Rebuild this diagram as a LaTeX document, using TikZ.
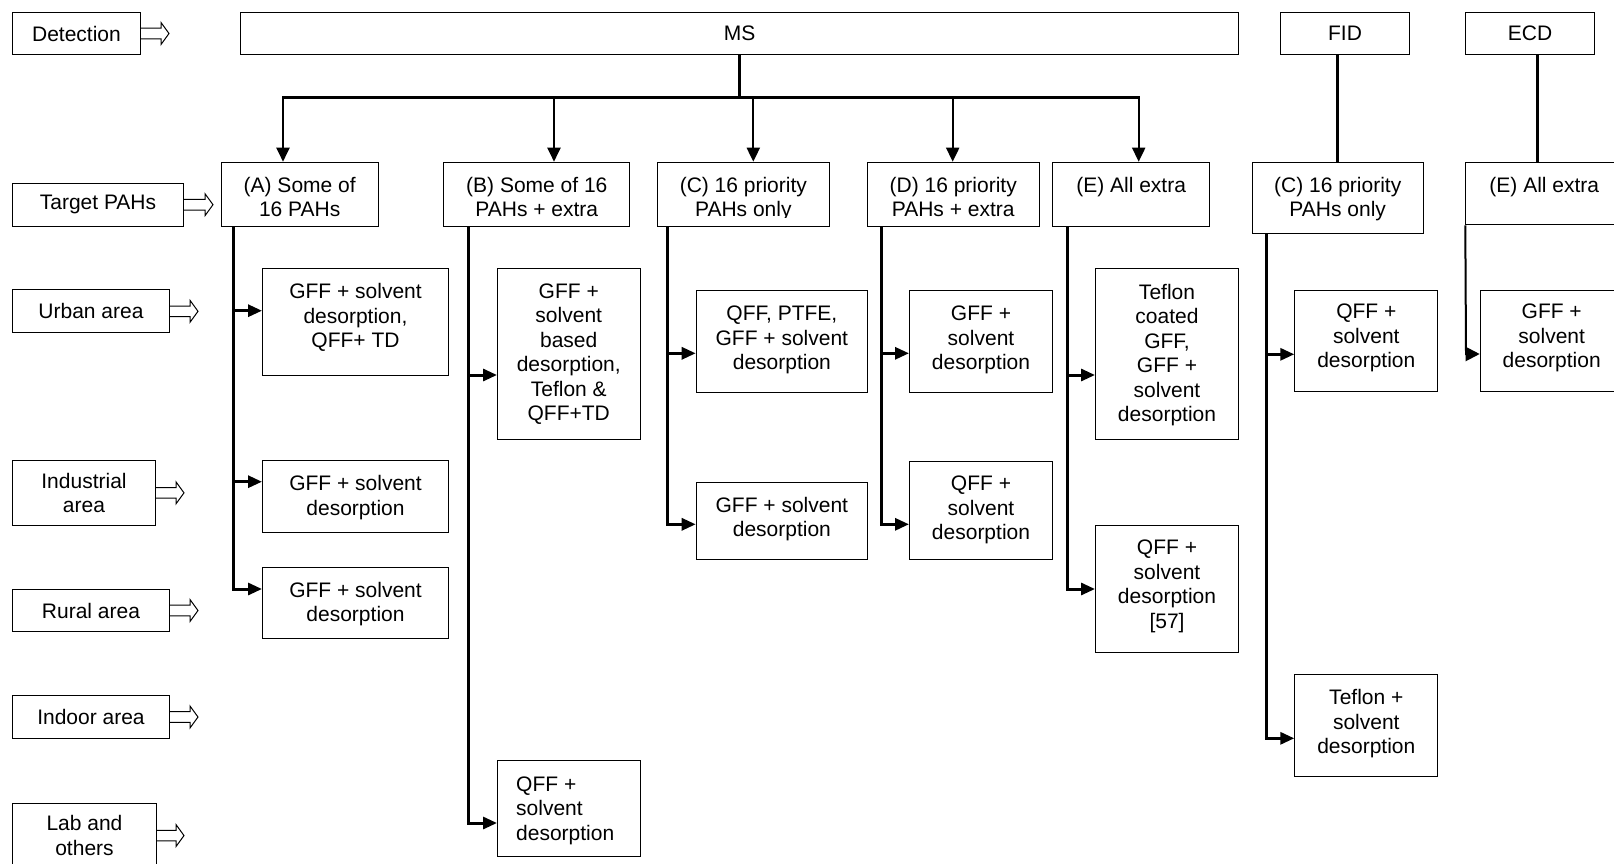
\documentclass[tikz,border=0pt]{standalone}
\usepackage{fontspec}
\setmainfont{Liberation Sans}
\usetikzlibrary{arrows.meta}

\begin{document}
\begin{tikzpicture}[x=1pt, y=-1pt,
                    nodes={font=\fontsize{21}{24.5}\selectfont, inner sep=0pt},
                    box/.style={draw, line width=1pt, anchor=north west},
                    txt/.style={align=center, anchor=north},
                    trunk/.style={line width=3pt},
                    drop/.style={line width=2pt, -{Triangle[length=14pt,width=13pt]}},
                    br/.style={line width=3pt, -{Triangle[length=14pt,width=12pt]}},
                    hol/.style={line width=1pt, line join=miter}]
 \useasboundingbox (0,0) rectangle (1614,863);
 % left column
 \node[box, minimum width=128pt, minimum height=42.6pt] (det) at (12,11.7) {Detection};
 \node[box, minimum width=171pt, minimum height=43pt] (tgt) at (12,182.7) {Target PAHs};
 \node[box, minimum width=157pt, minimum height=43pt] (urb) at (12,289.3) {Urban area};
 \node[box, minimum width=143pt, minimum height=64.7pt, align=center] (ind) at (12,460) {Industrial\\area};
 \node[box, minimum width=157pt, minimum height=42.6pt] (rur) at (12,588.7) {Rural area};
 \node[box, minimum width=157pt, minimum height=43pt] (indr) at (12,695) {Indoor area};
 \node[box, minimum width=144pt, minimum height=64.7pt, align=center] (lab) at (12,802.7) {Lab and\\others};
 \draw[hol] (det.east) ++(0,-5.3) -- ++(20,0) -- ++(0,-5.7) -- ++(8,11) -- ++(-8,11) -- ++(0,-5.7) -- ++(-20,0);
 \draw[hol] (tgt.east) ++(0,-5.3) -- ++(21,0) -- ++(0,-5.7) -- ++(8,11) -- ++(-8,11) -- ++(0,-5.7) -- ++(-21,0);
 \draw[hol] (urb.east) ++(0,-5.3) -- ++(20,0) -- ++(0,-5.7) -- ++(8,11) -- ++(-8,11) -- ++(0,-5.7) -- ++(-20,0);
 \draw[hol] (ind.east) ++(0,-5.3) -- ++(20,0) -- ++(0,-5.7) -- ++(8,11) -- ++(-8,11) -- ++(0,-5.7) -- ++(-20,0);
 \draw[hol] (rur.east) ++(0,-5.3) -- ++(20,0) -- ++(0,-5.7) -- ++(8,11) -- ++(-8,11) -- ++(0,-5.7) -- ++(-20,0);
 \draw[hol] (indr.east) ++(0,-5.3) -- ++(20,0) -- ++(0,-5.7) -- ++(8,11) -- ++(-8,11) -- ++(0,-5.7) -- ++(-20,0);
 \draw[hol] (lab.east) ++(0,-5.3) -- ++(19,0) -- ++(0,-5.7) -- ++(8,11) -- ++(-8,11) -- ++(0,-5.7) -- ++(-19,0);
 % detectors
 \node[box, minimum width=998pt, minimum height=42.6pt] (ms) at (240,11.7) {MS};
 \node[box, minimum width=129pt, minimum height=42.6pt] (fid) at (1280,11.7) {FID};
 \node[box, minimum width=129pt, minimum height=42.6pt] (ecd) at (1465,11.7) {ECD};
 % target PAHs
 \node[box, minimum width=157pt, minimum height=64pt] (hA) at (220.7,161.7) {};
 \node[txt] (hAt) at ([yshift=-15.3pt]hA.north) {(A) Some of\\16 PAHs};
 \node[box, minimum width=186pt, minimum height=64pt] (hB) at (443.3,161.7) {};
 \node[txt] (hBt) at ([yshift=-15.3pt]hB.north) {(B) Some of 16\\PAHs + extra};
 \node[box, minimum width=171.7pt, minimum height=64pt] (hC) at (657,161.7) {};
 \begin{scope}
  \clip (657,161.7) rectangle (829,217.5);
  \node[txt] (hCt) at ([yshift=-15.3pt]hC.north) {(C) 16 priority\\PAHs only};
 \end{scope}
 \node[box, minimum width=172pt, minimum height=64pt] (hD) at (866.7,161.7) {};
 \node[txt] (hDt) at ([yshift=-15.3pt]hD.north) {(D) 16 priority\\PAHs + extra};
 \node[box, minimum width=157.3pt, minimum height=64pt] (hE) at (1052,161.7) {};
 \node[txt] (hEt) at ([yshift=-15.3pt]hE.north) {(E) All extra};
 \node[box, minimum width=171pt, minimum height=71.6pt] (hF) at (1251.7,161.7) {};
 \node[txt] (hFt) at ([yshift=-15.3pt]hF.north) {(C) 16 priority\\PAHs only};
 \node[box, minimum width=157pt, minimum height=62.6pt] (hG) at (1465.3,161.7) {};
 \node[txt] (hGt) at ([yshift=-15.3pt]hG.north) {(E) All extra};
 % sampling
 \node[box, minimum width=186pt, minimum height=107pt] (rA1) at (262,268) {};
 \node[txt] (rA1t) at ([yshift=-15.3pt]rA1.north) {GFF + solvent\\desorption,\\QFF+ TD};
 \node[box, minimum width=186pt, minimum height=72pt] (rA2) at (262,460) {};
 \node[txt] (rA2t) at ([yshift=-15.3pt]rA2.north) {GFF + solvent\\desorption};
 \node[box, minimum width=186pt, minimum height=71pt] (rA3) at (262,567.3) {};
 \node[txt] (rA3t) at ([yshift=-14.4pt]rA3.north) {GFF + solvent\\desorption};
 \node[box, minimum width=142.5pt, minimum height=171pt] (rB1) at (497,268) {};
 \node[txt] (rB1t) at ([yshift=-15.3pt]rB1.north) {GFF +\\solvent\\based\\desorption,\\Teflon \&\\QFF+TD};
 \node[box, minimum width=143pt, minimum height=96.5pt] (rB2) at (497,759.5) {};
 \node[align=left, anchor=north west] (rB2t) at ([xshift=19pt,yshift=-17pt]rB2.north west) {QFF +\\solvent\\desorption};
 \node[box, minimum width=171.3pt, minimum height=101.7pt] (rC1) at (695.7,290) {};
 \node[txt] (rC1t) at ([yshift=-15.7pt]rC1.north) {QFF, PTFE,\\GFF + solvent\\desorption};
 \node[box, minimum width=171.3pt, minimum height=77.6pt] (rC2) at (695.7,481.7) {};
 \node[txt] (rC2t) at ([yshift=-15pt]rC2.north) {GFF + solvent\\desorption};
 \node[box, minimum width=143pt, minimum height=102pt] (rD1) at (909,289.7) {};
 \node[txt] (rD1t) at ([yshift=-16pt]rD1.north) {GFF +\\solvent\\desorption};
 \node[box, minimum width=143pt, minimum height=98.3pt] (rD2) at (909,460.7) {};
 \node[txt] (rD2t) at ([yshift=-15.3pt]rD2.north) {QFF +\\solvent\\desorption};
 \node[box, minimum width=143pt, minimum height=171pt] (rE1) at (1095,268) {};
 \node[txt] (rE1t) at ([yshift=-16pt]rE1.north) {Teflon\\coated\\GFF,\\GFF +\\solvent\\desorption};
 \node[box, minimum width=143pt, minimum height=127.3pt] (rE2) at (1095,525) {};
 \node[txt] (rE2t) at ([yshift=-15pt]rE2.north) {QFF +\\solvent\\desorption\\{[57]}};
 \node[box, minimum width=143pt, minimum height=101pt] (rF1) at (1294.3,290) {};
 \node[txt] (rF1t) at ([yshift=-14pt]rF1.north) {QFF +\\solvent\\desorption};
 \node[box, minimum width=143pt, minimum height=101.7pt] (rF2) at (1294.3,674) {};
 \node[txt] (rF2t) at ([yshift=-15.3pt]rF2.north) {Teflon +\\solvent\\desorption};
 \node[box, minimum width=143pt, minimum height=101pt] (rG1) at (1479.7,290) {};
 \node[txt] (rG1t) at ([yshift=-14pt]rG1.north) {GFF +\\solvent\\desorption};
 % MS bus
 \coordinate (dA) at (283,97);
 \coordinate (dB) at (554,97);
 \coordinate (dC) at (753.3,97);
 \coordinate (dD) at (952.7,97);
 \coordinate (dE) at (1138.7,97);
 \draw[trunk] (ms.south) -- (ms.south |- dA);
 \draw[trunk] ([xshift=-1pt]dA) -- ([xshift=1pt]dE);
 \draw[drop] (dA) -- (dA |- hA.north);
 \draw[drop] (dB) -- (dB |- hB.north);
 \draw[drop] (dC) -- (dC |- hC.north);
 \draw[drop] (dD) -- (dD |- hD.north);
 \draw[drop] (dE) -- (dE |- hE.north);
 \draw[trunk] (hF.north) -- (hF.north |- fid.south);
 \draw[trunk] ([xshift=7pt]ecd.south) -- ([xshift=7pt]ecd.south |- hG.north);
 % branches
 \coordinate (aA1) at (233.5,310.7);
 \coordinate (aA2) at (233.5,481.7);
 \coordinate (aA3) at (233.5,589);
 \coordinate (aB1) at (468.3,375);
 \coordinate (aB2) at (468.3,823);
 \coordinate (aC1) at (667.7,353.3);
 \coordinate (aC2) at (667.7,524.3);
 \coordinate (aD1) at (881.7,353.3);
 \coordinate (aD2) at (881.7,524.3);
 \coordinate (aE1) at (1067.3,375);
 \coordinate (aE2) at (1067.3,589);
 \coordinate (aF1) at (1266,354.3);
 \coordinate (aF2) at (1266,738.3);
 \coordinate (aG1) at (1466,354);
 \draw[br] (hA.south -| aA1) -- (aA3) -- (aA3 -| rA3.west);
 \draw[br] (aA1) -- (aA1 -| rA1.west);
 \draw[br] (aA2) -- (aA2 -| rA2.west);
 \draw[br] (hB.south -| aB1) -- (aB2) -- (aB2 -| rB2.west);
 \draw[br] (aB1) -- (aB1 -| rB1.west);
 \draw[br] (hC.south -| aC1) -- (aC2) -- (aC2 -| rC2.west);
 \draw[br] (aC1) -- (aC1 -| rC1.west);
 \draw[br] (hD.south -| aD1) -- (aD2) -- (aD2 -| rD2.west);
 \draw[br] (aD1) -- (aD1 -| rD1.west);
 \draw[br] (hE.south -| aE1) -- (aE2) -- (aE2 -| rE2.west);
 \draw[br] (aE1) -- (aE1 -| rE1.west);
 \draw[br] (hF.south -| aF1) -- (aF2) -- (aF2 -| rF2.west);
 \draw[br] (aF1) -- (aF1 -| rF1.west);
 \draw[line width=2pt, -{Triangle[length=14pt,width=14pt]}] (hG.south west) -- (aG1) -- (aG1 -| rG1.west);
\end{tikzpicture}
\end{document}
